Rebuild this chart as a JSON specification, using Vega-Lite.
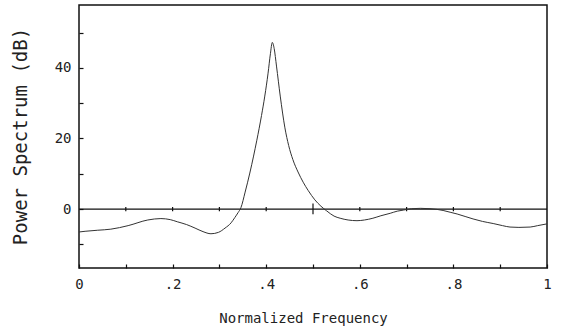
{
  "$schema": "https://vega.github.io/schema/vega-lite/v6.json",
  "width": 468,
  "height": 263,
  "autosize": "none",
  "padding": {"left": 79, "top": 5, "right": 14, "bottom": 61},
  "background": "white",
  "config": {
    "view": {"stroke": "#111", "strokeWidth": 1.5},
    "axis": {
      "labelFont": "DejaVu Sans Mono",
      "titleFont": "DejaVu Sans Mono",
      "labelColor": "#222",
      "titleColor": "#222",
      "titleFontWeight": "normal",
      "grid": false,
      "domain": false,
      "tickColor": "#111",
      "tickWidth": 1.2
    }
  },
  "datasets": {
    "spectrum": [
      {"f": 0.0, "db": -6.5}, {"f": 0.013, "db": -6.3}, {"f": 0.04, "db": -6.0},
      {"f": 0.068, "db": -5.7}, {"f": 0.105, "db": -4.7}, {"f": 0.147, "db": -3.1},
      {"f": 0.175, "db": -2.7}, {"f": 0.195, "db": -3.0}, {"f": 0.21, "db": -3.6},
      {"f": 0.23, "db": -4.4}, {"f": 0.248, "db": -5.4}, {"f": 0.265, "db": -6.4},
      {"f": 0.282, "db": -7.0}, {"f": 0.298, "db": -6.6}, {"f": 0.312, "db": -5.4},
      {"f": 0.325, "db": -3.9}, {"f": 0.333, "db": -2.4}, {"f": 0.34, "db": -1.0},
      {"f": 0.346, "db": 0.4}, {"f": 0.355, "db": 4.8}, {"f": 0.365, "db": 10.2},
      {"f": 0.373, "db": 15.0}, {"f": 0.38, "db": 19.5}, {"f": 0.39, "db": 26.5},
      {"f": 0.397, "db": 32.0}, {"f": 0.404, "db": 38.5}, {"f": 0.409, "db": 44.0},
      {"f": 0.413, "db": 47.2}, {"f": 0.417, "db": 45.5}, {"f": 0.422, "db": 40.5},
      {"f": 0.43, "db": 32.0}, {"f": 0.44, "db": 23.0}, {"f": 0.448, "db": 18.0},
      {"f": 0.457, "db": 14.0}, {"f": 0.468, "db": 10.5}, {"f": 0.479, "db": 7.6},
      {"f": 0.49, "db": 5.2}, {"f": 0.504, "db": 2.6}, {"f": 0.517, "db": 0.8},
      {"f": 0.529, "db": -0.5}, {"f": 0.545, "db": -2.0}, {"f": 0.558, "db": -2.6},
      {"f": 0.575, "db": -3.1}, {"f": 0.594, "db": -3.3}, {"f": 0.61, "db": -3.1},
      {"f": 0.628, "db": -2.6}, {"f": 0.645, "db": -1.9}, {"f": 0.665, "db": -1.2},
      {"f": 0.68, "db": -0.6}, {"f": 0.693, "db": -0.3}, {"f": 0.71, "db": 0.1},
      {"f": 0.73, "db": 0.2}, {"f": 0.75, "db": 0.1}, {"f": 0.765, "db": -0.1},
      {"f": 0.778, "db": -0.4}, {"f": 0.793, "db": -0.9}, {"f": 0.808, "db": -1.4},
      {"f": 0.825, "db": -2.1}, {"f": 0.842, "db": -2.8}, {"f": 0.862, "db": -3.5},
      {"f": 0.885, "db": -4.1}, {"f": 0.905, "db": -4.7}, {"f": 0.921, "db": -5.1},
      {"f": 0.94, "db": -5.2}, {"f": 0.964, "db": -5.1}, {"f": 0.98, "db": -4.7},
      {"f": 1.0, "db": -4.2}
    ],
    "zeroticks": [
      {"f": 0.1, "lo": -0.6, "hi": 0.6}, {"f": 0.2, "lo": -0.6, "hi": 0.6},
      {"f": 0.3, "lo": -0.6, "hi": 0.6}, {"f": 0.4, "lo": -0.6, "hi": 0.6},
      {"f": 0.5, "lo": -1.5, "hi": 1.6}, {"f": 0.6, "lo": -0.6, "hi": 0.6},
      {"f": 0.7, "lo": -0.6, "hi": 0.6}, {"f": 0.8, "lo": -0.6, "hi": 0.6},
      {"f": 0.9, "lo": -0.6, "hi": 0.6}
    ],
    "zeroline": [{"f": 0, "db": 0}, {"f": 1, "db": 0}]
  },
  "layer": [
    {
      "data": {"name": "zeroline"},
      "mark": {"type": "line", "color": "#111", "strokeWidth": 1.2},
      "encoding": {
        "x": {
          "field": "f", "type": "quantitative",
          "scale": {"domain": [0, 1], "nice": false, "zero": false},
          "axis": {
            "values": [0, 0.1, 0.2, 0.3, 0.4, 0.5, 0.6, 0.7, 0.8, 0.9, 1],
            "labelExpr": "round(datum.value*10) % 2 == 0 ? (datum.value == 0 ? '0' : (datum.value == 1 ? '1' : replace(format(datum.value, '.1f'), '0.', '.'))) : ''",
            "tickSize": -4,
            "labelPadding": 20,
            "labelFontSize": 14,
            "labelBaseline": "middle",
            "title": "Normalized Frequency",
            "titleFontSize": 14,
            "titleX": 224,
            "titleY": 50,
            "titleBaseline": "middle",
            "labelFlush": false
          }
        },
        "y": {
          "field": "db", "type": "quantitative",
          "scale": {"domain": [-16.7, 57.8], "nice": false, "zero": false},
          "axis": {
            "values": [-10, 0, 10, 20, 30, 40, 50],
            "labelExpr": "datum.value % 20 == 0 ? datum.value : ''",
            "tickSize": -4,
            "labelPadding": 12,
            "labelFontSize": 14,
            "title": "Power Spectrum (dB)",
            "titleFontSize": 19,
            "titleX": -59,
            "titleY": 131,
            "titleBaseline": "middle",
            "titleAngle": -90
          }
        }
      }
    },
    {
      "data": {"name": "zeroticks"},
      "mark": {"type": "rule", "color": "#111", "strokeWidth": 1.2},
      "encoding": {
        "x": {"field": "f", "type": "quantitative"},
        "y": {"field": "lo", "type": "quantitative"},
        "y2": {"field": "hi"}
      }
    },
    {
      "data": {"name": "spectrum"},
      "mark": {"type": "line", "color": "#333", "strokeWidth": 1, "interpolate": "monotone"},
      "encoding": {
        "x": {"field": "f", "type": "quantitative"},
        "y": {"field": "db", "type": "quantitative"}
      }
    }
  ]
}
